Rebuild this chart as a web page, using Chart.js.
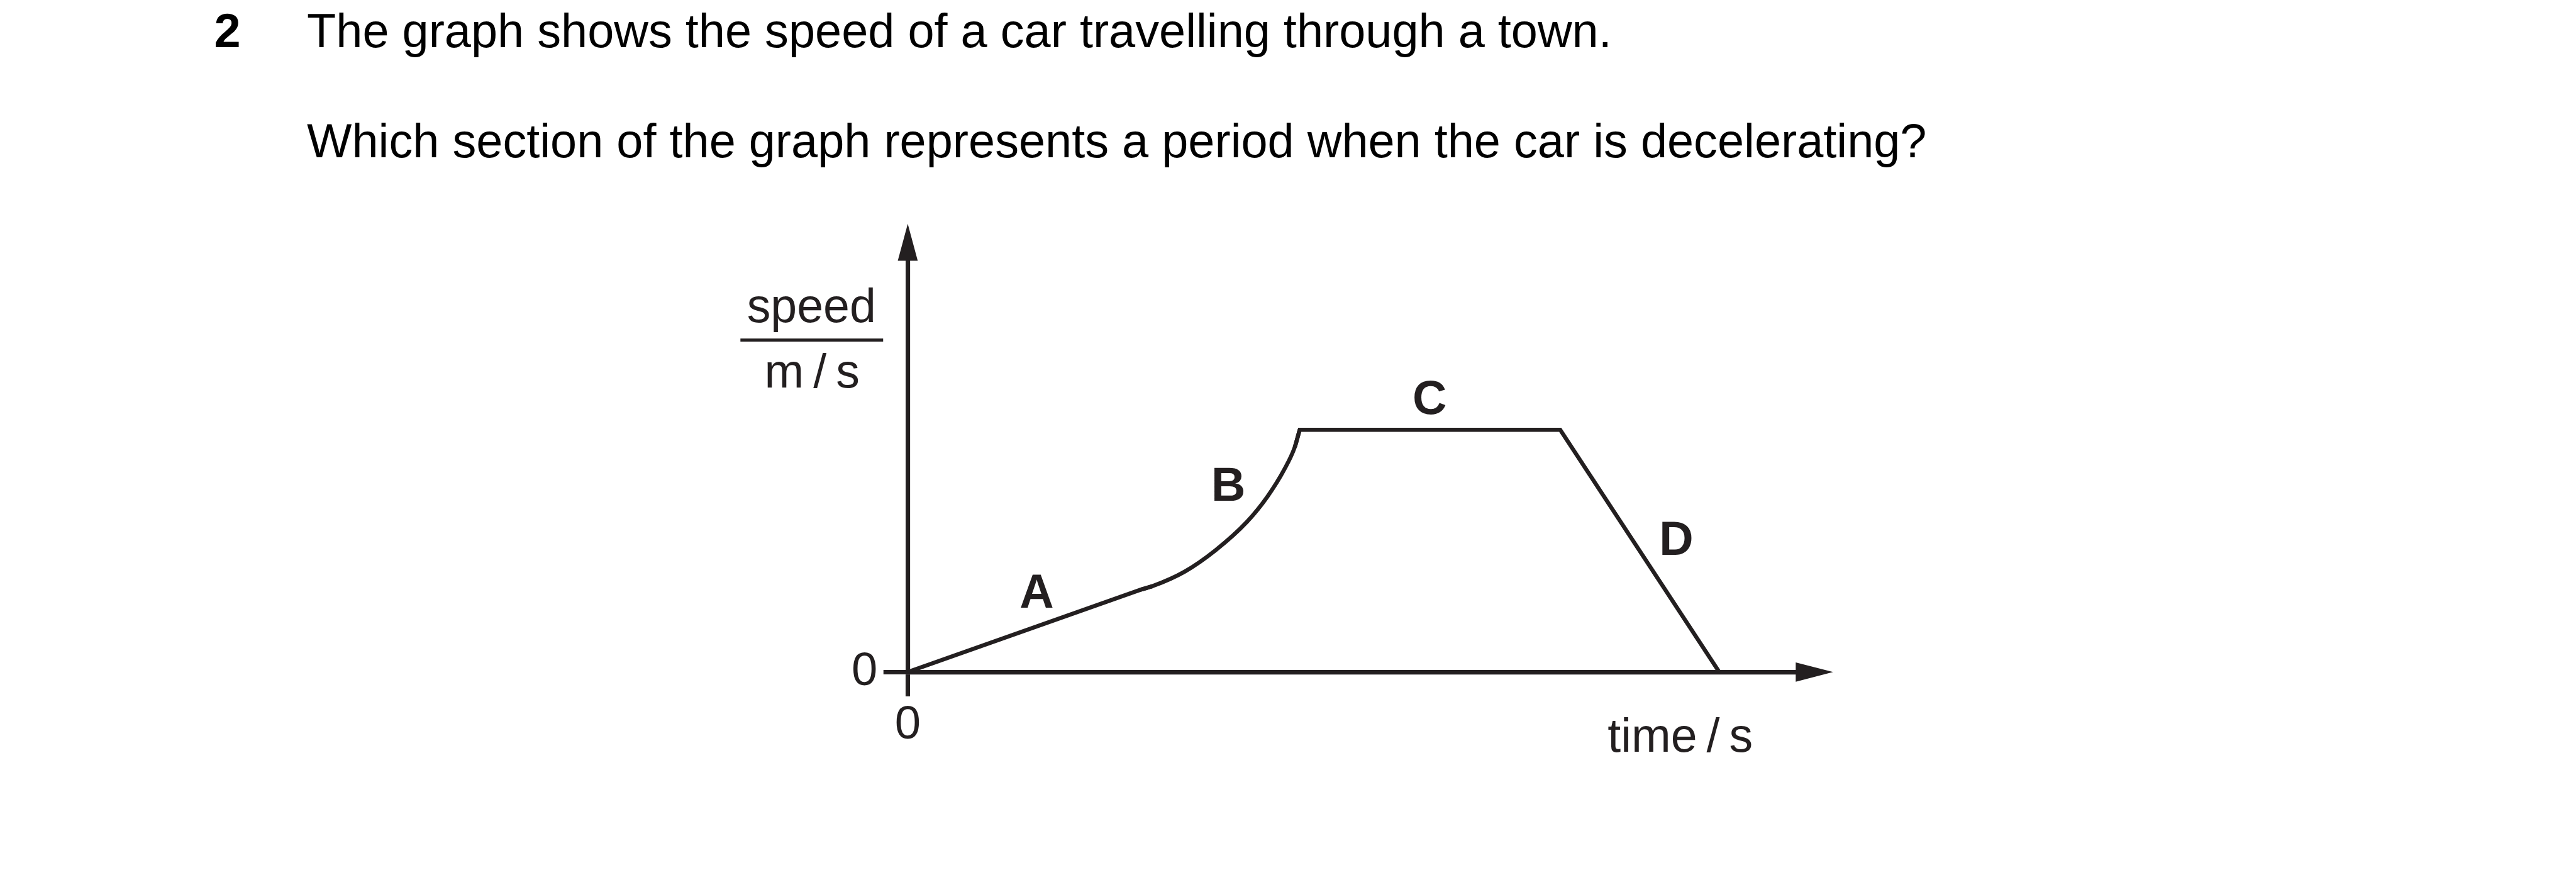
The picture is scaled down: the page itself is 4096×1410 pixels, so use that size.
<!DOCTYPE html>
<html>
<head>
<meta charset="utf-8">
<script src="https://cdn.jsdelivr.net/npm/chart.js@4.4.0/dist/chart.umd.min.js"></script>
<style>
  html, body { margin: 0; padding: 0; background: #fff; }
  #wrap { width: 4096px; height: 1410px; }
</style>
</head>
<body>
<div id="wrap"><canvas id="speedChart"></canvas></div>
<script>
// section A: steady acceleration (runs a little into B so the joint is clean)
var timeA = [0, 28.7, 30.2];
var speedA = [0, 3.4, 3.55];

// section B: increasing acceleration (curve)
var timeB = [28.7, 30.2, 34.1, 37.9, 41.8, 44.3, 46.4, 47.7, 48.3];
var speedB = [3.4, 3.55, 4.14, 5.02, 6.2, 7.23, 8.36, 9.29, 10];

// sections C (constant speed) and D (deceleration), starting from the top of B
var timeCD = [47.7, 48.3, 80.4, 100];
var speedCD = [9.29, 10, 10, 0];

// section letters and where they sit
var sectionNames = ['A', 'B', 'C', 'D'];
var sectionTime = [15.9, 39.5, 64.3, 94.7];
var sectionSpeed = [3.35, 7.78, 11.35, 5.55];

// tick labels
var xTicks = [0];
var yTicks = [0];
var xMax = 109.5;
var yMax = 17;

var S = 0.991;              // reference -> window scale
var ink = '#231f20';
var fontName = '"Liberation Sans", Arial, Helvetica, sans-serif';

function pts(t, v) {
  return t.map(function (x, i) { return { x: x, y: v[i] }; });
}

// question text, axis titles, arrow heads and section letters
var paperText = {
  id: 'paperText',
  afterDraw: function (chart) {
    var ctx = chart.ctx;
    var xs = chart.scales.x, ys = chart.scales.y;
    var ox = xs.getPixelForValue(0), oy = ys.getPixelForValue(0);
    var top = ys.getPixelForValue(yMax), right = xs.getPixelForValue(xMax);
    ctx.save();

    // arrow heads
    ctx.fillStyle = ink;
    ctx.beginPath();
    ctx.moveTo(ox, top - 58.5 * S);
    ctx.lineTo(ox - 16 * S, top + 1);
    ctx.lineTo(ox + 16 * S, top + 1);
    ctx.closePath();
    ctx.fill();
    ctx.beginPath();
    ctx.moveTo(right + 59 * S, oy);
    ctx.lineTo(right - 1, oy - 15.5 * S);
    ctx.lineTo(right - 1, oy + 15.5 * S);
    ctx.closePath();
    ctx.fill();

    // question
    var qSize = 76.4 * S;
    ctx.fillStyle = '#000';
    ctx.textAlign = 'left';
    ctx.textBaseline = 'alphabetic';
    ctx.font = 'bold ' + qSize + 'px ' + fontName;
    ctx.fillText('2', 343.7 * S, 76 * S);
    ctx.font = qSize + 'px ' + fontName;
    ctx.fillText('The graph shows the speed of a car travelling through a town.', 492.5 * S, 76 * S);
    ctx.fillText('Which section of the graph represents a period when the car is decelerating?', 492.5 * S, 252 * S);

    // axis titles
    ctx.fillStyle = ink;
    ctx.textAlign = 'center';
    ctx.font = (76 * S) + 'px ' + fontName;
    ctx.fillText('speed', 1302 * S, 517 * S);
    ctx.fillText('m\u2009/\u2009s', 1303 * S, 622 * S);
    ctx.fillRect(1188 * S, 543 * S, 229 * S, 5 * S);
    ctx.fillText('time\u2009/\u2009s', 2696 * S, 1206 * S);

    // section letters
    var size = 76 * S;
    ctx.font = 'bold ' + size + 'px ' + fontName;
    for (var i = 0; i < sectionNames.length; i++) {
      var px = xs.getPixelForValue(sectionTime[i]);
      var py = ys.getPixelForValue(sectionSpeed[i]);
      ctx.fillText(sectionNames[i], px, py + 0.358 * size);
    }
    ctx.restore();
  }
};

var lineStyle = {
  borderColor: ink,
  borderWidth: 6.5 * S,
  pointRadius: 0,
  tension: 0,
  fill: false,
  borderJoinStyle: 'miter',
  borderCapStyle: 'butt'
};

var ctx = document.getElementById('speedChart').getContext('2d');

var speedChart = new Chart(ctx, {
  type: 'line',
  data: {
    datasets: [
      Object.assign({ label: 'A', data: pts(timeA, speedA) }, lineStyle),
      Object.assign({ label: 'B', data: pts(timeB, speedB), cubicInterpolationMode: 'monotone' }, lineStyle),
      Object.assign({ label: 'C D', data: pts(timeCD, speedCD) }, lineStyle)
    ]
  },
  options: {
    responsive: true,
    maintainAspectRatio: false,
    animation: false,
    events: [],
    layout: {
      padding: { top: 413.6, right: 1239.7, left: 0, bottom: 0 }
    },
    plugins: {
      legend: { display: false },
      tooltip: { enabled: false }
    },
    scales: {
      x: {
        type: 'linear',
        min: 0,
        max: xMax,
        afterBuildTicks: function (s) { s.ticks = xTicks.map(function (v) { return { value: v }; }); },
        afterFit: function (s) { s.height = 1410 - 1078 * S; },
        grid: { drawOnChartArea: false, drawTicks: true, tickLength: 39 * S, tickWidth: 7.2 * S, tickColor: ink },
        border: { display: true, width: 7.2 * S, color: ink },
        ticks: { color: ink, padding: 2, maxRotation: 0, autoSkip: false, font: { family: fontName, size: 75 * S } }
      },
      y: {
        type: 'linear',
        min: 0,
        max: yMax,
        afterBuildTicks: function (s) { s.ticks = yTicks.map(function (v) { return { value: v }; }); },
        afterFit: function (s) { s.width = 1456.5 * S; },
        grid: { drawOnChartArea: false, drawTicks: true, tickLength: 39 * S, tickWidth: 7.2 * S, tickColor: ink },
        border: { display: true, width: 7.2 * S, color: ink },
        ticks: { color: ink, padding: 9.5, autoSkip: false, font: { family: fontName, size: 75 * S } }
      }
    }
  },
  plugins: [paperText]
});
</script>
</body>
</html>
